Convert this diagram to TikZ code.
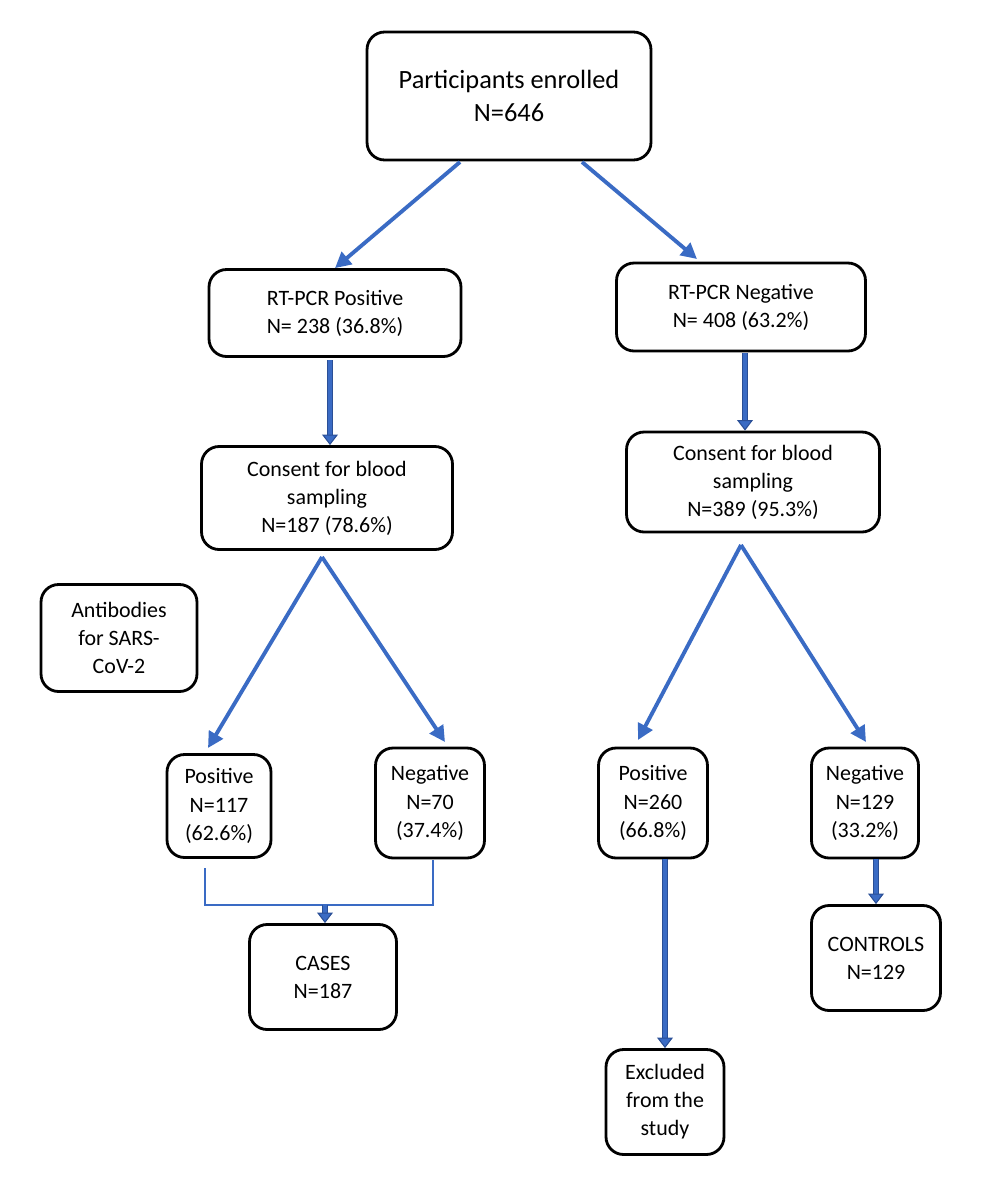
\documentclass[tikz,border=0pt]{standalone}
\usepackage{fontspec}
\setmainfont{Carlito}
\usetikzlibrary{arrows.meta}
\definecolor{flowblue}{HTML}{3A6BC4}
\definecolor{flowdark}{HTML}{2A4F96}
\tikzset{
	every path/.style={thick},
	box/.style={
		draw,
		rectangle,
		rounded corners=10pt,
		line width=1.6pt,
		align=center,
		font=\fontsize{12.5}{16}\selectfont,
	},
	flow/.style={
		draw=flowblue,
		line width=2.2pt,
		-{Triangle[length=9pt,width=9pt]}
	},
	pipe/.style={
		draw=flowdark,
		double=flowblue,
		double distance=2.2pt,
		line width=0.6pt,
		-{Triangle[length=6pt,width=9pt,fill=flowblue]}
	},
	bracket/.style={
		draw=flowblue,
		line width=1.4pt,
	},
}

\begin{document}
\begin{tikzpicture}[x=0.02cm,y=-0.02cm]
	\useasboundingbox (0,0) rectangle (986,1191);

	\node[box, minimum width=5.68cm, minimum height=2.56cm, font=\fontsize{15}{19}\selectfont] (enrolled) at (509,96) {Participants enrolled\\N=646};

	\node[box, minimum width=5.04cm, minimum height=1.74cm] (pcrpos) at (335,313) {RT-PCR Positive\\N= 238 (36.8\%)};
	\node[box, minimum width=4.98cm, minimum height=1.76cm] (pcrneg) at (741,307) {RT-PCR Negative\\N= 408 (63.2\%)};

	\node[box, minimum width=5.02cm, minimum height=2.06cm] (consL) at (327,498) {Consent for blood\\sampling\\N=187 (78.6\%)};
	\node[box, minimum width=5.06cm, minimum height=2.0cm] (consR) at (753,482) {Consent for blood\\sampling\\N=389 (95.3\%)};

	\node[box, minimum width=3.12cm, minimum height=2.14cm] (antib) at (119,638) {Antibodies\\for SARS-\\CoV-2};

	\node[box, minimum width=2.08cm, minimum height=2.06cm] (posL) at (219,806) {Positive\\N=117\\(62.6\%)};
	\node[box, minimum width=2.18cm, minimum height=2.2cm] (negL) at (430,803) {Negative\\N=70\\(37.4\%)};
	\node[box, minimum width=2.18cm, minimum height=2.2cm] (posR) at (653,803) {Positive\\N=260\\(66.8\%)};
	\node[box, minimum width=2.14cm, minimum height=2.2cm] (negR) at (865,803) {Negative\\N=129\\(33.2\%)};

	\node[box, minimum width=2.94cm, minimum height=2.1cm] (cases) at (323,977) {CASES\\N=187};
	\node[box, minimum width=2.58cm, minimum height=2.1cm] (controls) at (876,958) {CONTROLS\\N=129};
	\node[box, minimum width=2.36cm, minimum height=2.1cm] (excluded) at (665,1102) {Excluded\\from the\\study};

	\coordinate (splitL) at (322,557);
	\coordinate (splitR) at (741,545);
	\coordinate (joinL) at (205,905);
	\coordinate (joinR) at (433,905);

	\draw[flow] (460,162) -- (pcrpos.north);
	\draw[flow] (582,162) -- (697,259);
	\draw[pipe] (330,360) -- (consL.north -| 330,0);
	\draw[pipe] (745,353) -- (consR.north -| 745,0);

	\draw[flow] (splitL) -- (208,748);
	\draw[flow] (splitL) -- (445,742);
	\draw[flow] (splitR) -- (638,740);
	\draw[flow] (splitR) -- (866,742);

	\draw[bracket] (205,868) -- (joinL) -- (joinR) -- (433,860);
	\draw[pipe] (325,905) -- (cases.north -| 325,0);
	\draw[pipe] (posR.south -| 665,0) -- (excluded.north -| 665,0);
	\draw[pipe] (negR.south -| 876,0) -- (controls.north -| 876,0);
\end{tikzpicture}
\end{document}
